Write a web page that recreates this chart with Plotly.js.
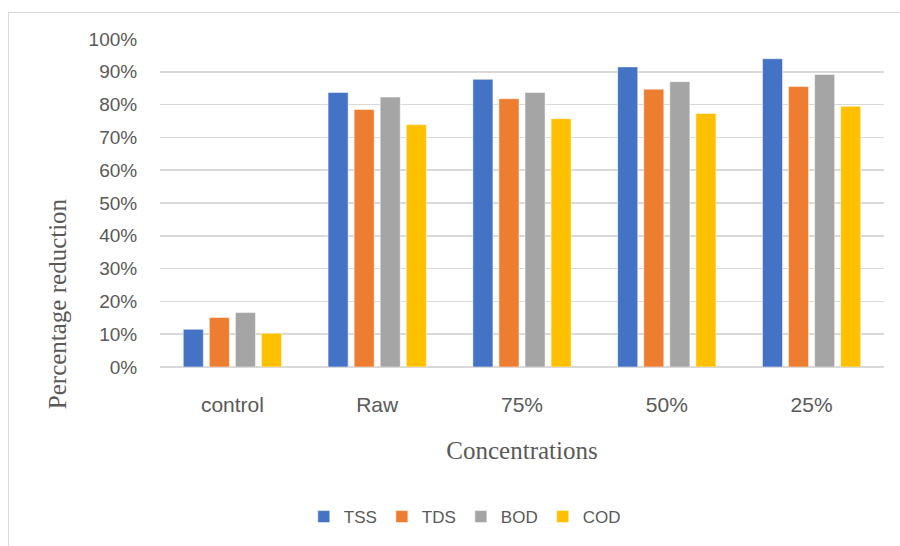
<!DOCTYPE html>
<html>
<head>
<meta charset="utf-8">
<script src="https://cdn.plot.ly/plotly-3.0.1.min.js"></script>
<style>
  html, body { margin: 0; padding: 0; background: #fff; }
  #wrap { position: relative; width: 900px; height: 546px; overflow: hidden; }
  #frame { position: absolute; left: 8px; top: 12px; width: 900px; height: 540px; border: 1px solid #d9d9d9; box-sizing: border-box; }
  #chart { position: absolute; left: 0; top: 0; width: 900px; height: 546px; }
</style>
</head>
<body>
<div id="wrap">
  <div id="frame"></div>
  <div id="chart"></div>
</div>
<script>
const categories = ["control", "Raw", "75%", "50%", "25%"];
const seriesNames = ["TSS", "TDS", "BOD", "COD"];
const TSS = [11.5, 83.7, 87.7, 91.5, 94.0];
const TDS = [15.1, 78.5, 81.8, 84.7, 85.5];
const BOD = [16.6, 82.3, 83.7, 87.0, 89.2];
const COD = [10.3, 73.9, 75.7, 77.3, 79.5];
const yTicks = [0, 10, 20, 30, 40, 50, 60, 70, 80, 90, 100];
const yTickLabels = ["0%", "10%", "20%", "30%", "40%", "50%", "60%", "70%", "80%", "90%", "100%"];
const colors = ["#4472C4", "#ED7D31", "#A5A5A5", "#FFC000"];

const values = [TSS, TDS, BOD, COD];
const sans = "Liberation Sans, Arial, sans-serif";
const serif = "Liberation Serif, Times New Roman, serif";

const traces = seriesNames.map((name, i) => ({
  type: "bar",
  name: name,
  x: categories,
  y: values[i],
  marker: { color: colors[i], line: { color: "rgba(255,255,255,0.5)", width: 1 } },
  hoverinfo: "x+y+name"
}));

const layout = {
  width: 900,
  height: 546,
  margin: { l: 160, r: 16, t: 39, b: 178 },
  paper_bgcolor: "rgba(0,0,0,0)",
  plot_bgcolor: "rgba(0,0,0,0)",
  barmode: "group",
  bargap: 0.28,
  bargroupgap: 0.23,
  showlegend: true,
  legend: {
    orientation: "h",
    x: 0.421, xanchor: "center",
    y: -0.453, yanchor: "middle",
    font: { family: sans, size: 17, color: "#595959" },
    itemwidth: 30,
    traceorder: "normal"
  },
  xaxis: {
    type: "category",
    tickfont: { family: sans, size: 21, color: "#595959" },
    ticks: "outside",
    ticklen: 19,
    tickcolor: "rgba(0,0,0,0)",
    showline: false,
    showgrid: false,
    title: { text: "Concentrations", font: { family: serif, size: 25, color: "#595959" }, standoff: 26 },
    automargin: false
  },
  yaxis: {
    range: [0, 100],
    tickvals: yTicks,
    ticktext: yTickLabels,
    tickfont: { family: sans, size: 19, color: "#595959" },
    ticks: "outside",
    ticklen: 18,
    tickcolor: "rgba(0,0,0,0)",
    showgrid: true,
    gridcolor: "#d9d9d9",
    gridwidth: 1.5,
    zeroline: true,
    zerolinecolor: "#d9d9d9",
    zerolinewidth: 1.5,
    automargin: false
  },
  annotations: [{
    text: "Percentage reduction",
    xref: "paper", yref: "paper",
    x: (57 - 160) / 724, y: (368 - 305) / 329,
    xanchor: "center", yanchor: "middle",
    textangle: -90,
    showarrow: false,
    font: { family: serif, size: 25, color: "#595959" }
  }]
};

Plotly.newPlot("chart", traces, layout, { displayModeBar: false, staticPlot: true });
</script>
</body>
</html>
